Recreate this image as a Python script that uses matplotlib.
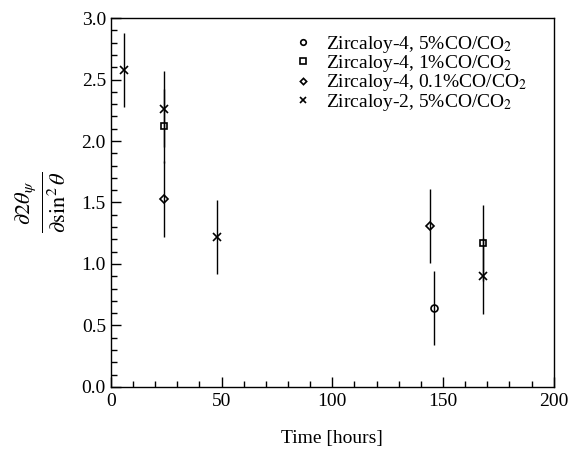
import matplotlib
matplotlib.use("Agg")
import matplotlib.pyplot as plt
from matplotlib.ticker import MultipleLocator

plt.rcParams['font.family'] = ['Liberation Serif', 'DejaVu Serif']
plt.rcParams['mathtext.fontset'] = 'stix'

# data
z4_5_x = [146]
z4_5_y = [0.64]
z4_5_e = [0.30]

z4_1_x = [24, 168]
z4_1_y = [2.12, 1.17]
z4_1_e = [0.30, 0.31]

z4_01_x = [24, 144]
z4_01_y = [1.53, 1.31]
z4_01_e = [0.31, 0.30]

z2_5_x = [6, 24, 48, 168]
z2_5_y = [2.58, 2.26, 1.22, 0.90]
z2_5_e = [0.30, 0.31, 0.30, 0.31]

labels = ['Zircaloy-4, 5%CO/CO$_2$', 'Zircaloy-4, 1%CO/CO$_2$',
          'Zircaloy-4, 0.1%CO/CO$_2$', 'Zircaloy-2, 5%CO/CO$_2$']

fig = plt.figure(figsize=(5.68, 4.51), dpi=100)
ax = fig.add_axes([0.195, 0.142, 0.780, 0.818])

series = [(z4_5_x, z4_5_y, z4_5_e, 'o', 5, 'none'),
          (z4_1_x, z4_1_y, z4_1_e, 's', 5, 'none'),
          (z4_01_x, z4_01_y, z4_01_e, 'D', 4, 'none'),
          (z2_5_x, z2_5_y, z2_5_e, 'x', 6, 'k')]
handles = []
for (x, y, e, m, ms, fc), lab in zip(series, labels):
    ax.errorbar(x, y, yerr=e, fmt='none', ecolor='k', elinewidth=1.0, capsize=0)
    h, = ax.plot(x, y, linestyle='none', marker=m, ms=ms, mfc=fc, mec='k', mew=1.2,
                 color='k', label=lab)
    handles.append(h)

ax.set_xlim(0, 200)
ax.set_ylim(0, 3.0)
ax.xaxis.set_major_locator(MultipleLocator(50))
ax.xaxis.set_minor_locator(MultipleLocator(10))
ax.yaxis.set_major_locator(MultipleLocator(0.5))
ax.yaxis.set_minor_locator(MultipleLocator(0.1))
ax.yaxis.set_major_formatter(matplotlib.ticker.FormatStrFormatter('%.1f'))
ax.tick_params(which='both', direction='in', top=False, right=False, labelsize=14)
ax.tick_params(which='major', length=7, width=1)
ax.tick_params(which='minor', length=4, width=1)
ax.tick_params(axis='x', pad=4)
for s in ax.spines.values():
    s.set_linewidth(1.0)

ax.set_xlabel('Time [hours]', fontsize=14, labelpad=15)
ax.set_ylabel(r'$\frac{\partial 2\theta_\psi}{\partial \sin^2\theta}$', fontsize=23, labelpad=10)

leg = ax.legend(handles=handles, loc='upper right', frameon=False, fontsize=14,
                handletextpad=0.8, labelspacing=-0.08, borderaxespad=0.5,
                borderpad=0.3, handlelength=0.8, markerscale=0.8,
                bbox_to_anchor=(0.975, 1.0))

fig.savefig('out.png', dpi=100)
